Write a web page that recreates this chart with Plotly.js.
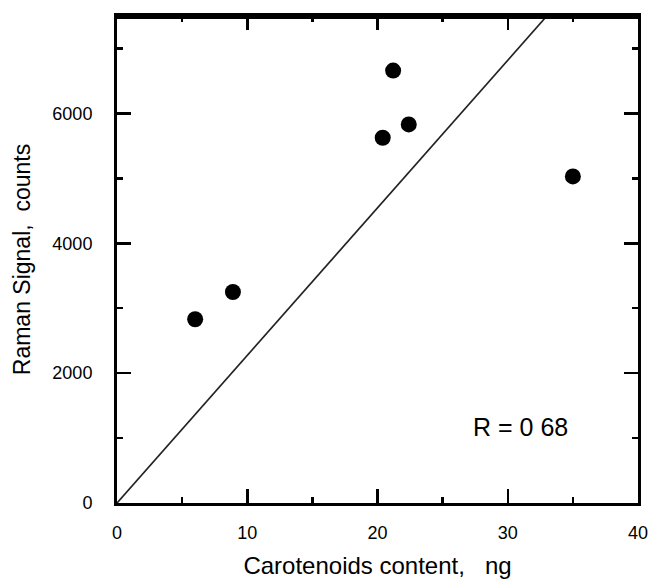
<!DOCTYPE html>
<html>
<head>
<meta charset="utf-8">
<script src="https://cdn.plot.ly/plotly-3.0.1.min.js"></script>
<style>html,body{margin:0;padding:0;background:#fff;}#chart{width:650px;height:579px;}</style>
</head>
<body>
<div id="chart"></div>
<script>
// Data
var carotenoidsNg = [6.0, 8.9, 20.4, 21.2, 22.4, 35.0];
var ramanCounts   = [2830, 3250, 5625, 6660, 5830, 5030];
// Line drawn through the origin
var fitX = [0, 33.0];
var fitY = [0, 7500];
var xTickVals = [0, 10, 20, 30, 40];
var yTickVals = [0, 2000, 4000, 6000];
var rLabel = 'R = 0 68';
var rLabelX = 27.2;
var rLabelY = 1170;

var font = 'Liberation Sans, Arial, Helvetica, sans-serif';

var traces = [
  {x: fitX, y: fitY, mode: 'lines', type: 'scatter',
   line: {color: '#222', width: 1.7}, hoverinfo: 'skip', showlegend: false},
  {x: carotenoidsNg, y: ramanCounts, mode: 'markers', type: 'scatter',
   marker: {color: '#000', size: 16, symbol: 'circle'}, showlegend: false}
];

var layout = {
  width: 650, height: 579,
  margin: {l: 117, r: 12, t: 16, b: 76},
  paper_bgcolor: '#fff', plot_bgcolor: '#fff',
  font: {family: font, color: '#000'},
  showlegend: false,
  xaxis: {
    range: [0, 40], tickvals: xTickVals, ticktext: xTickVals.map(String),
    ticks: 'inside', ticklen: 14, tickwidth: 2.5, tickcolor: '#000',
    minor: {dtick: 5, tick0: 0, ticks: 'inside', ticklen: 6, tickwidth: 2.5, tickcolor: '#000', showgrid: false},
    showline: true, linewidth: 3, linecolor: '#000', mirror: 'ticks',
    showgrid: false, zeroline: false,
    tickfont: {size: 18, family: font, color: '#000'},
    ticklabelstandoff: 11,
    title: {text: 'Carotenoids content,&nbsp;&nbsp;&nbsp;ng', font: {size: 24, family: font, color: '#000'}, standoff: 17}
  },
  yaxis: {
    range: [0, 7500], tickvals: yTickVals, ticktext: yTickVals.map(String),
    ticks: 'inside', ticklen: 14, tickwidth: 2.5, tickcolor: '#000',
    minor: {dtick: 1000, tick0: 0, ticks: 'inside', ticklen: 6, tickwidth: 2.5, tickcolor: '#000', showgrid: false},
    showline: true, linewidth: 3, linecolor: '#000', mirror: 'ticks',
    showgrid: false, zeroline: false,
    tickfont: {size: 18, family: font, color: '#000'},
    ticklabelstandoff: 18,
    title: {text: 'Raman Signal,&nbsp;&nbsp;counts', font: {size: 23, family: font, color: '#000'}, standoff: 16}
  },
  shapes: [
    {type: 'line', xref: 'paper', yref: 'paper', x0: 0, x1: 1, y0: 1, y1: 1,
     line: {color: '#000', width: 6}}
  ],
  annotations: [
    {x: rLabelX, y: rLabelY, xref: 'x', yref: 'y', text: rLabel, showarrow: false,
     xanchor: 'left', yanchor: 'middle', font: {size: 25, family: font, color: '#000'}}
  ]
};

Plotly.newPlot('chart', traces, layout, {displayModeBar: false, staticPlot: true});
</script>
</body>
</html>
